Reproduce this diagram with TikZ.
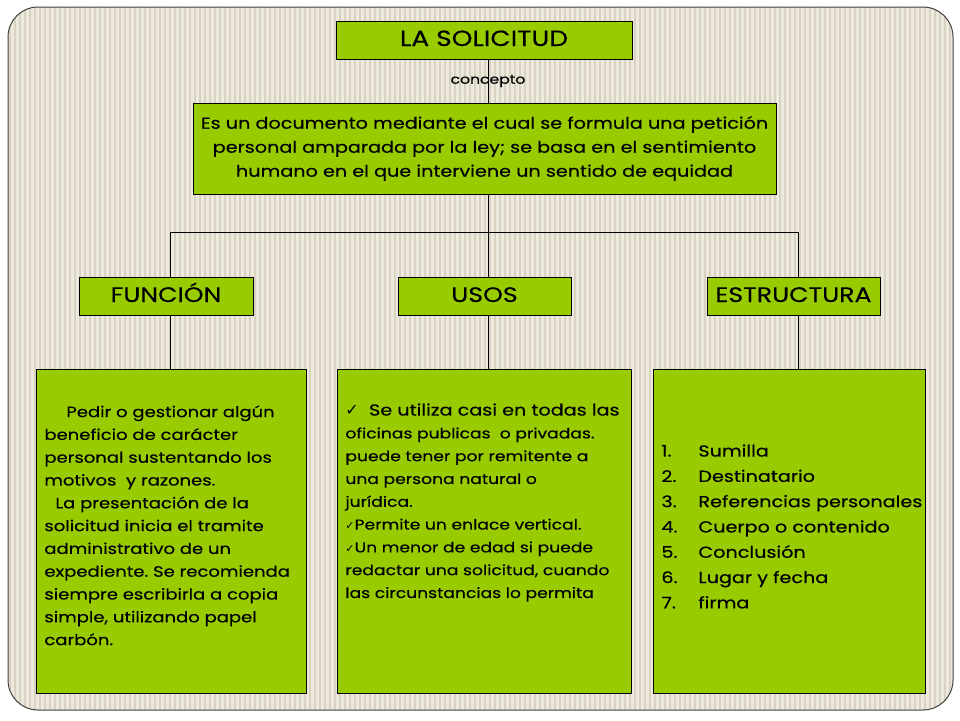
\documentclass[tikz,border=0pt]{standalone}
\usepackage{fontspec}
\setmainfont{Poppins}[FakeStretch=1.2, FakeBold=0.3]
\newfontfamily\symfont{DejaVu Sans}
\usepackage{tikz}
\usepackage{xcolor}
\definecolor{verde}{HTML}{99CC00}
\definecolor{papel}{HTML}{EEE9DD}
\definecolor{raya}{HTML}{D9D2C2}
\newcommand{\chk}{{\symfont ✓}}

\begin{document}
\begin{tikzpicture}[x=1pt, y=-1pt, thick,
  box/.style = {draw, fill=verde, line width=0.8pt, inner sep=0pt},
  hdr/.style = {box, minimum width=174pt, minimum height=38pt, text height=15pt, text depth=3pt, font=\fontsize{21}{24}\selectfont},
  big/.style = {box, minimum height=324pt},
  txt/.style = {anchor=north west, inner sep=0pt, align=left},
  link/.style = {line width=0.8pt}]
  \useasboundingbox (0,0) rectangle (960,720);
  % fondo rayado
  \begin{scope}
    \clip[rounded corners=30pt] (8,7) rectangle (953,710);
    \fill[papel] (8,7) rectangle (953,710);
    \foreach \x in {10,15,...,955} \draw[raya, line width=1.3pt] (\x,7) -- (\x,710);
  \end{scope}
  \draw[rounded corners=30pt, black!75, line width=1pt] (8,7) rectangle (953,710);

  \node[hdr, minimum width=296pt, font=\fontsize{22}{24}\selectfont] (sol) at (484,40) {LA SOLICITUD};
  \node[box, minimum width=583pt, minimum height=91pt, align=center, font=\fontsize{16}{24}\selectfont] (def) at (484.5,148.5)
    {Es un documento mediante el cual se formula una petición\\
     personal amparada por la ley; se basa en el sentimiento\\
     humano en el que interviene un sentido de equidad};
  \node[hdr] (fun) at (166,296) {FUNCIÓN};
  \node[hdr, minimum width=173pt] (uso) at (484.5,296) {USOS};
  \node[hdr, minimum width=173pt] (est) at (793.5,296) {ESTRUCTURA};
  \node[big, minimum width=270pt] (funbox) at (171,531) {};
  \node[big, minimum width=294pt] (usobox) at (484,531) {};
  \node[big, minimum width=272pt] (estbox) at (789,531) {};

  \node[txt, font=\fontsize{15}{22.8}\selectfont] (funtxt) at (44,405)
    {\hspace*{22pt}Pedir o gestionar algún\\
     beneficio de carácter\\
     personal sustentando los\\
     motivos\ \ y razones.\\
     \hspace*{11pt}La presentación de la\\
     solicitud inicia el tramite\\
     administrativo de un\\
     expediente.\ Se recomienda\\
     siempre escribirla a copia\\
     simple, utilizando papel\\
     carbón.};
  \node[txt, font=\fontsize{14.3}{22.8}\selectfont] (usotxt) at (345,403)
    {{\fontsize{16}{22.8}\selectfont\chk\ \ Se utiliza casi en todas las}\\
     oficinas publicas\ \ o privadas.\\
     puede tener por remitente a\\
     una persona natural o\\
     jurídica.\\
     {\fontsize{11}{22.8}\selectfont\chk}Permite un enlace vertical.\\
     {\fontsize{11}{22.8}\selectfont\chk}Un menor de edad si puede\\
     redactar una solicitud, cuando\\
     las circunstancias lo permita};
  \node[txt, font=\fontsize{16}{25.3}\selectfont] (esttxt) at (661,444)
    {\makebox[37pt][l]{1.}Sumilla\\
     \makebox[37pt][l]{2.}Destinatario\\
     \makebox[37pt][l]{3.}Referencias personales\\
     \makebox[37pt][l]{4.}Cuerpo o contenido\\
     \makebox[37pt][l]{5.}Conclusión\\
     \makebox[37pt][l]{6.}Lugar y fecha\\
     \makebox[37pt][l]{7.}firma};

  % conectores
  \draw[link] ([xshift=4pt]sol.south) to node[font=\fontsize{13}{14}\selectfont] (con) {concepto} ([xshift=3.5pt]def.north);
  \draw[link] ([xshift=3.5pt]def.south) -- ++(0,38) coordinate (hub);
  \draw[link] ([xshift=-1pt]fun.north -| funbox.north) |- (hub) -| ([xshift=9pt]est.north -| estbox.north);
  \draw[link] (hub) -- (hub |- uso.north);
  \draw[link] ([xshift=-1pt]fun.south -| funbox.north) -- ([xshift=-1pt]funbox.north);
  \draw[link] (hub |- uso.south) -- (hub |- usobox.north);
  \draw[link] ([xshift=9pt]est.south -| estbox.north) -- ([xshift=9pt]estbox.north);
\end{tikzpicture}
\end{document}
